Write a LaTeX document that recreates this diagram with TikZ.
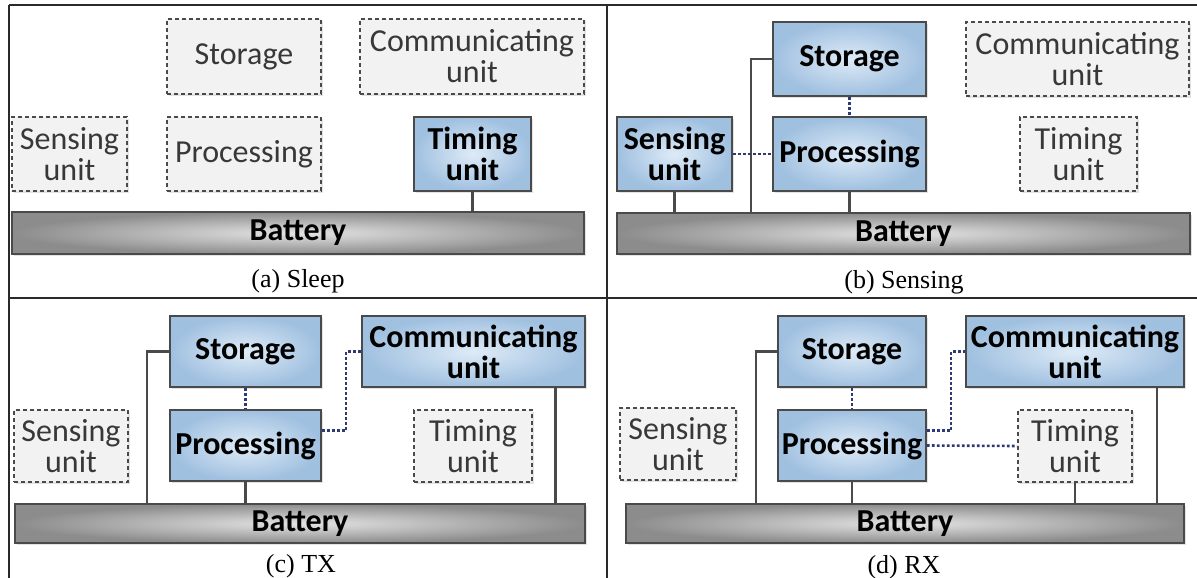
\documentclass[tikz,border=0pt]{standalone}
\usepackage{fontspec}
\setmainfont{Carlito}
\newfontfamily\capfont{Liberation Serif}
\usetikzlibrary{shadows}

\definecolor{edge}{HTML}{4A4A4A}
\definecolor{bluein}{HTML}{DEEBF7}
\definecolor{blueout}{HTML}{A0C0E0}
\definecolor{batin}{HTML}{E4E4E4}
\definecolor{batout}{HTML}{8C8C8C}
\definecolor{idlefill}{HTML}{F2F2F2}
\definecolor{signal}{HTML}{2E3A78}
\definecolor{frameline}{HTML}{2A2A2A}

\newcommand\unitfont{\fontsize{32}{31}\selectfont}

\tikzset{
  unit/.style={rectangle, inner sep=0pt, align=center, text=black,
    font=\unitfont, drop shadow={opacity=0.22, shadow xshift=2pt, shadow yshift=-2pt}},
  active/.style={unit, draw=edge, line width=1.8pt,
    inner color=bluein, outer color=blueout, font=\unitfont\bfseries},
  idle/.style={unit, draw=edge, line width=1.6pt, dash pattern=on 4pt off 3pt,
    fill=idlefill, text=black!78},
  battery/.style={unit, draw=edge, line width=1.8pt,
    inner color=batin, outer color=batout, font=\unitfont\bfseries},
  wire/.style={draw=edge, line width=2.4pt},
  signalline/.style={draw=signal, line width=2.6pt, dash pattern=on 2.6pt off 2.4pt},
  frame/.style={draw=frameline, line width=2.2pt},
  caption/.style={font=\capfont\fontsize{26}{28}\selectfont, anchor=base, inner sep=0pt}
}

\begin{document}
\begin{tikzpicture}[x=1pt, y=-1pt]
\useasboundingbox (0,0) rectangle (1197,578);

% panel frame
\draw[frame] (9,5) -- (1197,5);
\draw[frame] (9,5) -- (9,578);
\draw[frame] (9,298) -- (1197,298);
\draw[frame] (607,5) -- (607,578);

% ---------- (a) Sleep ----------
\node[idle, minimum width=154, minimum height=75] (a-sto) at (244,56.5) {Storage};
\node[idle, minimum width=224, minimum height=75] (a-com) at (472,56.5) {Communicating\\unit};
\node[idle, minimum width=115, minimum height=74] (a-sen) at (69.5,154) {Sensing\\unit};
\node[idle, minimum width=154, minimum height=74] (a-pro) at (244,154) {Processing};
\node[active, minimum width=117, minimum height=74] (a-tim) at (472.5,154) {Timing\\unit};
\node[battery, minimum width=572, minimum height=42] (a-bat) at (298,233) {Battery};
\draw[wire] (a-tim.south) -- (a-tim.south |- a-bat.north);
\node[caption] (a-cap) at (298,287) {(a) Sleep};

% ---------- (b) Sensing ----------
\node[active, minimum width=153, minimum height=74] (b-sto) at (849.5,59) {Storage};
\node[active, minimum width=153, minimum height=74] (b-pro) at (849.5,154) {Processing};
\node[active, minimum width=115, minimum height=74] (b-sen) at (674.5,154) {Sensing\\unit};
\node[idle, minimum width=223, minimum height=74] (b-com) at (1077.5,59) {Communicating\\unit};
\node[idle, minimum width=117, minimum height=74] (b-tim) at (1078.5,154) {Timing\\unit};
\node[battery, minimum width=573, minimum height=41] (b-bat) at (903.5,233.5) {Battery};
\draw[wire] (b-sen.south) -- (b-sen.south |- b-bat.north);
\draw[wire] (b-pro.south) -- (b-pro.south |- b-bat.north);
\draw[wire] (b-sto.west) -- ++(-21,0) coordinate (b-k) -- (b-k |- b-bat.north);
\draw[signalline] (b-sto.south) -- (b-pro.north);
\draw[signalline] (b-sen.east) -- (b-pro.west);
\node[caption] (b-cap) at (904,288) {(b) Sensing};

% ---------- (c) TX ----------
\node[active, minimum width=151, minimum height=71] (c-sto) at (245.5,351.5) {Storage};
\node[active, minimum width=151, minimum height=71] (c-pro) at (245.5,445.5) {Processing};
\node[active, minimum width=223, minimum height=71] (c-com) at (473.5,351.5) {Communicating\\unit};
\node[idle, minimum width=114, minimum height=72] (c-sen) at (71,446) {Sensing\\unit};
\node[idle, minimum width=118, minimum height=72] (c-tim) at (473,446) {Timing\\unit};
\node[battery, minimum width=570, minimum height=39] (c-bat) at (300,523.5) {Battery};
\draw[wire] (c-pro.south) -- (c-pro.south |- c-bat.north);
\draw[wire] (c-sto.west) -- ++(-22,0) coordinate (c-k) -- (c-k |- c-bat.north);
\draw[wire] ([xshift=82pt]c-com.south) coordinate (c-p) -- (c-p |- c-bat.north);
\draw[signalline] (c-sto.south) -- (c-pro.north);
\draw[signalline] ([yshift=15pt]c-pro.east) -- ++(24,0) coordinate (c-j) |- (c-com.west);
\node[caption] (c-cap) at (301,572) {(c) TX};

% ---------- (d) RX ----------
\node[active, minimum width=148, minimum height=71] (d-sto) at (852,351.5) {Storage};
\node[active, minimum width=148, minimum height=71] (d-pro) at (852,445.5) {Processing};
\node[active, minimum width=218, minimum height=71] (d-com) at (1075,351.5) {Communicating\\unit};
\node[idle, minimum width=116, minimum height=72] (d-sen) at (678,444) {Sensing\\unit};
\node[idle, minimum width=114, minimum height=72] (d-tim) at (1075,446) {Timing\\unit};
\node[battery, minimum width=558, minimum height=39] (d-bat) at (905,523.5) {Battery};
\draw[wire] (d-pro.south) -- (d-pro.south |- d-bat.north);
\draw[wire] (d-tim.south) -- (d-tim.south |- d-bat.north);
\draw[wire] (d-sto.west) -- ++(-21,0) coordinate (d-k) -- (d-k |- d-bat.north);
\draw[wire] ([xshift=82pt]d-com.south) coordinate (d-p) -- (d-p |- d-bat.north);
\draw[signalline] (d-sto.south) -- (d-pro.north);
\draw[signalline] ([yshift=15pt]d-pro.east) -- ++(24,0) coordinate (d-j) |- (d-com.west);
\draw[signalline] (d-pro.east) -- (d-tim.west);
\node[caption] (d-cap) at (904,573) {(d) RX};
\end{tikzpicture}
\end{document}
